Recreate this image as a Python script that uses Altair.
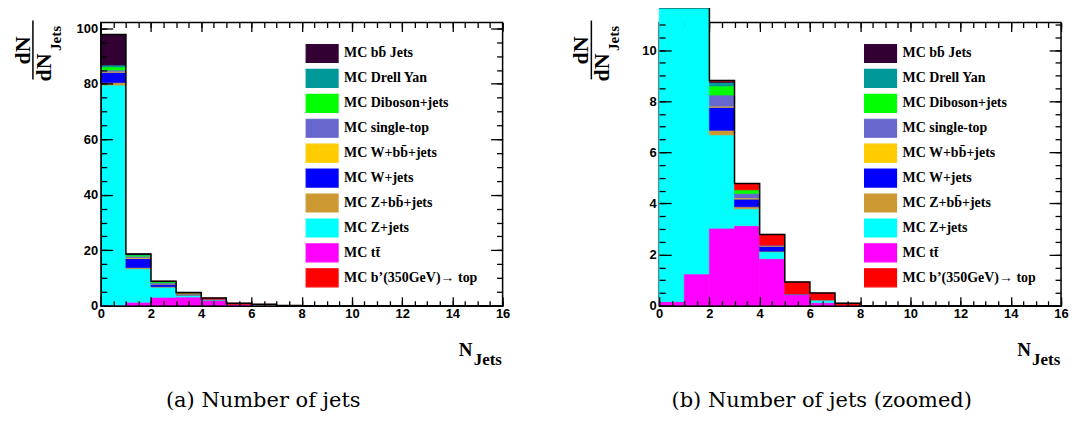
import altair as alt
import pandas as pd

# ---------------- data ----------------
bin_lo = list(range(16))
labels = ["MC bb\u0304 Jets", "MC Drell Yan", "MC Diboson+jets", "MC single-top",
          "MC W+bb\u0304+jets", "MC W+jets", "MC Z+bb\u0304+jets", "MC Z+jets",
          "MC tt\u0304", "MC b\u2019(350GeV)\u2192 top"]
colors = ["#330033", "#009999", "#00ff00", "#6666cc", "#ffcc00",
          "#0000ff", "#cc9933", "#00ffff", "#ff00ff", "#ff0000"]
stack_rank = [9, 8, 7, 6, 5, 4, 3, 2, 1, 10]   # 1 = bottom of the stack

bbbar   = [11.0, 0.10, 0.05, 0.00, 0.00, 0.00, 0.00, 0.00, 0, 0, 0, 0, 0, 0, 0, 0]
drellyan= [0.70, 0.30, 0.14, 0.00, 0.00, 0.00, 0.00, 0.00, 0, 0, 0, 0, 0, 0, 0, 0]
diboson = [1.10, 0.40, 0.35, 0.14, 0.00, 0.00, 0.00, 0.00, 0, 0, 0, 0, 0, 0, 0, 0]
stop    = [0.50, 0.50, 0.44, 0.18, 0.03, 0.04, 0.00, 0.00, 0, 0, 0, 0, 0, 0, 0, 0]
wbb     = [0.30, 0.30, 0.04, 0.04, 0.01, 0.00, 0.00, 0.00, 0, 0, 0, 0, 0, 0, 0, 0]
wjets   = [3.70, 3.30, 0.90, 0.30, 0.20, 0.00, 0.00, 0.00, 0, 0, 0, 0, 0, 0, 0, 0]
zbb     = [0.90, 0.40, 0.18, 0.08, 0.02, 0.00, 0.00, 0.00, 0, 0, 0, 0, 0, 0, 0, 0]
zjets   = [79.4, 12.1, 3.65, 0.66, 0.27, 0.00, 0.10, 0.00, 0, 0, 0, 0, 0, 0, 0, 0]
ttbar   = [0.16, 1.24, 3.03, 3.13, 1.84, 0.42, 0.12, 0.02, 0, 0, 0, 0, 0, 0, 0, 0]
bprime  = [0.00, 0.00, 0.03, 0.25, 0.42, 0.47, 0.28, 0.08, 0, 0, 0, 0, 0, 0, 0, 0]
series = [bbbar, drellyan, diboson, stop, wbb, wjets, zbb, zjets, ttbar, bprime]

x_major = [0, 2, 4, 6, 8, 10, 12, 14, 16]
x_minor = [i * 0.5 for i in range(33)]
yA_major = [0, 20, 40, 60, 80, 100]
yA_minor = [i * 5 for i in range(21)]
yB_major = [0, 2, 4, 6, 8, 10]
yB_minor = [i * 0.5 for i in range(23)]

# stacked table (bottom = rank 1); empty entries are skipped
rows = []
order_idx = sorted(range(len(labels)), key=lambda k: stack_rank[k])
for b, lo in enumerate(bin_lo):
    base = 0.0
    for k in order_idx:
        v = series[k][b]
        if v > 0:
            rows.append({"comp": labels[k], "lo": lo, "hi": lo + 1,
                         "y0": base, "y1": base + v})
        base += v
df = pd.DataFrame(rows)
totals = [sum(s[i] for s in series) for i in range(16)]
df_out = pd.DataFrame({"edge": bin_lo + [16], "total": totals + [totals[-1]]})
df_one = pd.DataFrame({"z": [0]})

W, H = 403, 284
SERIF = "Liberation Serif"
SANS = "Liberation Sans"


def lab_axis(orient, values, pad, domain):
    return alt.Axis(orient=orient, values=values, ticks=False, domain=domain,
                    domainColor="black", domainWidth=1.5, labelFont=SANS,
                    labelFontSize=13, labelFontWeight="bold", labelColor="black",
                    labelPadding=pad, grid=False, title=None, zindex=1,
                    labelFlush=False, labelOverlap=False, format="d")


def tick_axis(orient, values, size, z):
    return alt.Axis(orient=orient, values=values, ticks=True, tickSize=size,
                    tickColor="black", tickWidth=1.3, labels=False, domain=False,
                    grid=False, title=None, offset=-size, zindex=z)


def panel(y_dom, y_rng, y_major, y_minor, caption):
    xs = alt.Scale(domain=[0, 16], nice=False, zero=False)
    if y_rng is None:
        ys = alt.Scale(domain=y_dom, nice=False, zero=False)
    else:
        ys = alt.Scale(domain=y_dom, range=y_rng, nice=False, zero=False, clamp=True)

    bars = alt.Chart(df).mark_rect(clip=False, strokeWidth=0.6).encode(
        x=alt.X("lo:Q", scale=xs, axis=None),
        x2="hi:Q",
        y=alt.Y("y0:Q", scale=ys, axis=None),
        y2="y1:Q",
        color=alt.Color("comp:N", scale=alt.Scale(domain=labels, range=colors),
                        legend=alt.Legend(orient="none", legendX=212, legendY=21,
                                          title=None,
                                          symbolType="M-1.778,-1H1.778V1H-1.778Z",
                                          symbolSize=324, symbolStrokeColor="black",
                                          symbolStrokeWidth=1.2, symbolOpacity=1,
                                          labelFont=SERIF, labelFontSize=14,
                                          labelFontWeight="bold", labelColor="black",
                                          labelOffset=12, rowPadding=1.0, padding=0,
                                          labelLimit=400)),
        stroke=alt.Stroke("comp:N", scale=alt.Scale(domain=labels, range=colors),
                          legend=None),
    )
    outline = alt.Chart(df_out).mark_line(interpolate="step-after", color="black",
                                          strokeWidth=1.5, clip=False).encode(
        x=alt.X("edge:Q", scale=xs, axis=None),
        y=alt.Y("total:Q", scale=ys, axis=None),
    )

    def axl(xax, yax):
        return alt.Chart(df_one).mark_point(opacity=0).encode(
            x=alt.X("z:Q", scale=xs, axis=xax),
            y=alt.Y("z:Q", scale=ys, axis=yax),
        )

    a1 = axl(lab_axis("bottom", x_major, 2, True), lab_axis("left", y_major, 3, y_rng is None))
    a2 = axl(tick_axis("bottom", x_major, 9, 1), tick_axis("left", y_major, 12, 1))
    a3 = axl(tick_axis("bottom", x_minor, 5, 1), tick_axis("left", y_minor, 6, 1))
    a4 = axl(tick_axis("top", x_major, 9, 0), tick_axis("right", y_major, 12, 0))
    a5 = axl(tick_axis("top", x_minor, 5, 0), tick_axis("right", y_minor, 6, 0))

    def txt(s, x, y, size, font=SERIF, weight="bold", angle=0, align="center",
            baseline="middle"):
        return alt.Chart(df_one).mark_text(text=s, font=font, fontSize=size,
                                           fontWeight=weight, angle=angle,
                                           align=align, baseline=baseline,
                                           color="black").encode(
            x=alt.value(x), y=alt.value(y))

    num = txt("dN", -78, 28, 22, angle=270)
    den = txt("dN", -57, 45, 22, angle=270)
    den_sub = txt("Jets", -45, 16, 15, angle=270)
    frac = alt.Chart(df_one).mark_rule(color="black", strokeWidth=1.5).encode(
        x=alt.value(-68), y=alt.value(-2), y2=alt.value(57))
    xt_n = txt("N", 366, 334, 19, baseline="alphabetic")
    xt_sub = txt("Jets", 374, 343, 17, align="left", baseline="alphabetic")
    cap = txt(caption, 163, 386, 21, font="DejaVu Serif", weight="normal",
              baseline="alphabetic")

    return alt.layer(bars, outline, a1, a2, a3, a4, a5, num, den, den_sub, frac,
                     xt_n, xt_sub, cap).resolve_axis(
        x="independent", y="independent").properties(width=W, height=H)


left = panel([0, 102.1], None, yA_major, yA_minor, "(a)  Number of jets")
right = panel([0, 11.66], [H, -15], yB_major, yB_minor, "(b)  Number of jets (zoomed)")

chart = alt.hconcat(left, right, spacing=157, bounds="flush").resolve_scale(
    color="independent", stroke="independent").properties(
    padding={"left": 3, "top": -5, "right": 5, "bottom": 5}
).configure_view(stroke="black", strokeWidth=1.5)

chart.save("out.html", embed_options={"renderer": "svg", "actions": False})
